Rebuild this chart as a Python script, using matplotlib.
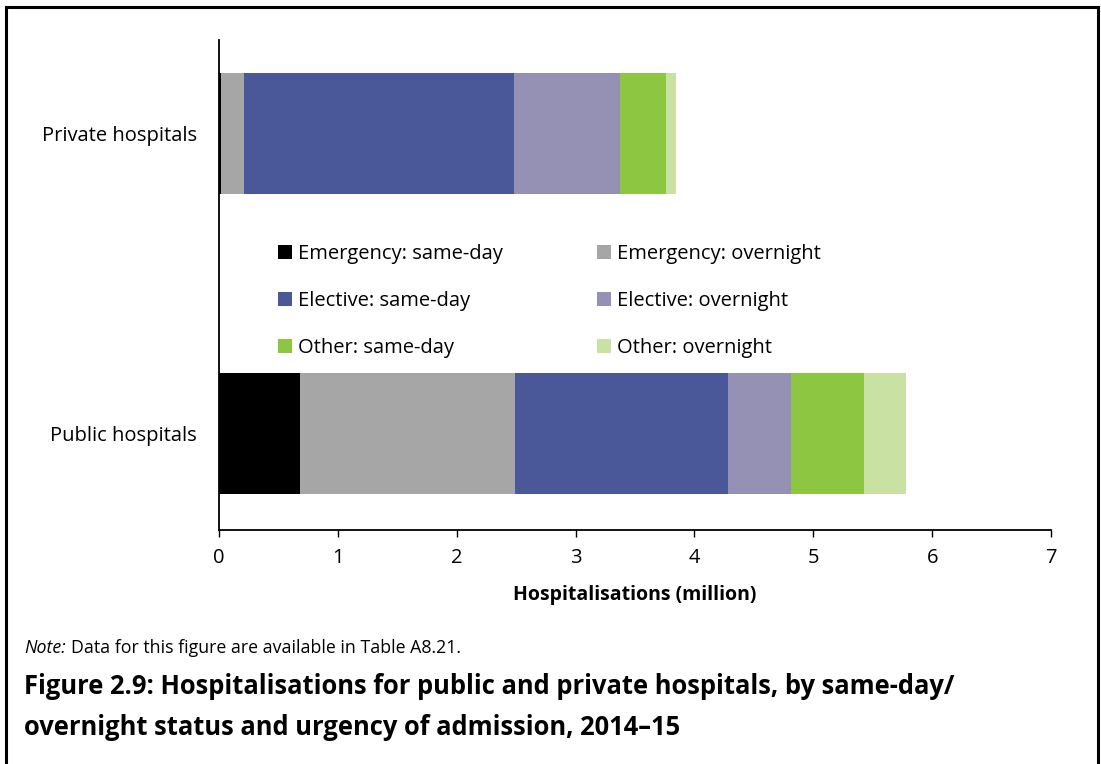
import matplotlib
matplotlib.use("Agg")
import matplotlib.pyplot as plt
from matplotlib.patches import Patch, Rectangle

categories = ["Public hospitals", "Private hospitals"]
series_names = ["Emergency: same-day", "Emergency: overnight",
                "Elective: same-day", "Elective: overnight",
                "Other: same-day", "Other: overnight"]
# values in millions: [public, private]
emergency_sameday = [0.68, 0.02]
emergency_overnight = [1.81, 0.19]
elective_sameday = [1.79, 2.27]
elective_overnight = [0.53, 0.89]
other_sameday = [0.615, 0.39]
other_overnight = [0.357, 0.084]
series_values = [emergency_sameday, emergency_overnight, elective_sameday,
                 elective_overnight, other_sameday, other_overnight]
colors = ["#000000", "#A6A6A6", "#4A5899", "#9491B5", "#8DC641", "#C9E2A3"]
xticks = [0, 1, 2, 3, 4, 5, 6, 7]

plt.rcParams['font.family'] = ['Open Sans', 'DejaVu Sans']

fig = plt.figure(figsize=(11.01, 7.64), dpi=100)
ax = fig.add_axes([219/1101, 1-530/764, (1051-219)/1101, 490/764])

left = [0.0, 0.0]
ypos = [0, 1]
for name, vals, c in zip(series_names, series_values, colors):
    ax.barh(ypos, vals, left=left, height=0.403, color=c, label=name)
    left = [l + v for l, v in zip(left, vals)]

ax.set_xlim(0, 7)
ax.set_ylim(-0.32, 1.31)
ax.set_xticks(xticks)
ax.set_xticklabels([str(t) for t in xticks], fontsize=14.5)
ax.set_yticks(ypos)
ax.set_yticklabels(categories, fontsize=14.5)
ax.tick_params(axis='y', length=0, pad=16)
ax.tick_params(axis='x', length=5, width=1, direction='out', pad=8)
for s in ['top', 'right']:
    ax.spines[s].set_visible(False)
for s in ['left', 'bottom']:
    ax.spines[s].set_linewidth(1.3)
ax.set_xlabel("Hospitalisations (million)", fontsize=14, fontweight='bold', labelpad=12)

# legend filled row-wise: reorder for matplotlib's column-wise filling
order = [0, 2, 4, 1, 3, 5]
handles = [Patch(facecolor=colors[i], edgecolor='none') for i in order]
labels = [series_names[i] for i in order]
ax.legend(handles, labels, ncol=2, frameon=False, fontsize=14.5,
          loc='upper left', bbox_to_anchor=(270/1101, 1-236/764), bbox_transform=fig.transFigure,
          handlelength=0.7, handleheight=0.7, handletextpad=0.3,
          columnspacing=4.65, labelspacing=1.33, borderaxespad=0)

fig.canvas.draw()
renderer = fig.canvas.get_renderer()
t_note = fig.text(24/1101, 1-648/764, "Note:", fontsize=12.8, style='italic', va='center', ha='left')
bb = t_note.get_window_extent(renderer=renderer)
fig.text((bb.x1 + 5)/1101, 1-648/764, "Data for this figure are available in Table A8.21.",
         fontsize=12.8, va='center', ha='left')
fig.text(24/1101, 1-707/764,
         "Figure 2.9: Hospitalisations for public and private hospitals, by same-day/\n"
         "overnight status and urgency of admission, 2014\u201315",
         fontsize=18.4, fontweight='bold', va='center', ha='left', linespacing=1.65)

# outer frame
fig.add_artist(Rectangle((6/1101, -0.02), (1098-6)/1101, (0.02 + 1 - 7/764), transform=fig.transFigure,
                         fill=False, edgecolor='black', linewidth=2.2))

fig.savefig("out.png", dpi=100)
